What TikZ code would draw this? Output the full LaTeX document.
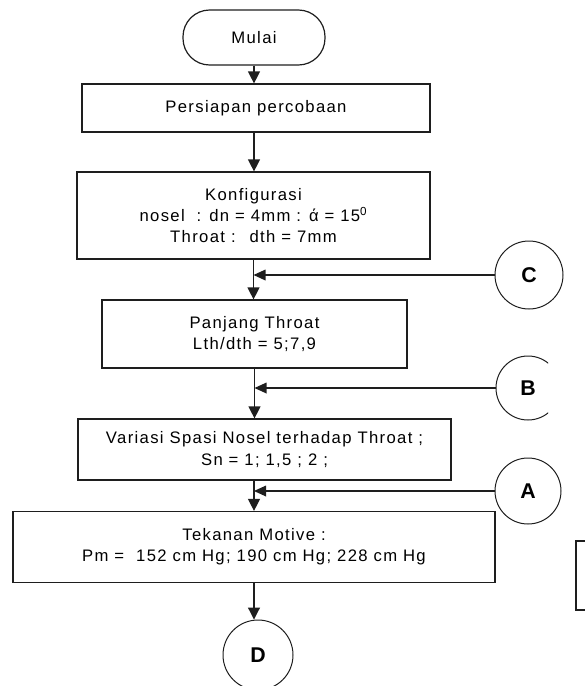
\documentclass[tikz,border=0pt]{standalone}
\usepackage{fontspec}
\setmainfont{Liberation Sans}[LetterSpace=8]
\usetikzlibrary{arrows.meta}
\definecolor{flowline}{RGB}{30,30,30}
\tikzset{
  stepbox/.style={draw=flowline,line width=0.9pt,inner sep=0pt,align=center,
    font=\fontsize{12.5}{16}\selectfont},
  connector/.style={draw=flowline,circle,line width=0.75pt,inner sep=0pt,
    font=\fontsize{16}{16}\selectfont\bfseries},
  flow/.style={draw=flowline,line width=0.9pt,-{Triangle[length=9pt,width=9pt]}},
  sideflow/.style={draw=flowline,line width=0.9pt,-{Triangle[length=9pt,width=8pt]}}
}

\begin{document}
\begin{tikzpicture}[x=0.75pt,y=-0.75pt]
  \useasboundingbox (0,0) rectangle (585,686);
  \clip (0,0) rectangle (585,686);
  % flow steps
  \node[stepbox,rounded corners=20pt,minimum width=106.5pt,minimum height=41.25pt] (mulai) at (254,37.5) {Mulai};
  \node[stepbox,minimum width=261pt,minimum height=36pt] (persiapan) at (256,108) {Persiapan percobaan};
  \node[stepbox,minimum width=264.75pt,minimum height=65.25pt] (konfig) at (253.5,215.5)
    {Konfigurasi\\nosel \ : dn = 4mm : ά = 15\textsuperscript{0}\\Throat : \ dth = 7mm};
  \node[stepbox,minimum width=228.75pt,minimum height=51pt] (panjang) at (254.5,334)
    {Panjang Throat\\Lth/dth = 5;7,9};
  \node[stepbox,minimum width=279.75pt,minimum height=45.75pt] (variasi) at (264.5,449.5)
    {Variasi Spasi Nosel terhadap Throat ;\\Sn = 1; 1,5 ; 2 ;};
  \node[stepbox,minimum width=361.5pt,minimum height=53.25pt] (tekanan) at (254,547)
    {Tekanan Motive :\\Pm = \ 152 cm Hg; 190 cm Hg; 228 cm Hg};
  % off-page connectors
  \node[connector,minimum size=51pt] (C) at (529,275) {C};
  \node[connector,minimum size=49.5pt] (A) at (528,491) {A};
  \begin{scope}
    \clip (0,350) rectangle (548,430);
    \node[connector,minimum size=48pt] (B) at (528,388) {B};
  \end{scope}
  \node[connector,minimum size=52.5pt] (D) at (258,655) {D};
  % partial box at the right edge
  \draw[flowline,line width=0.9pt] (600,541) -- (576,541) -- (576,610) -- (600,610);
  % main line
  \draw[flow] (mulai.south) -- (mulai.south |- persiapan.north);
  \draw[flow] (persiapan.south -| mulai.south) -- (konfig.north -| mulai.south);
  \draw[flow] (konfig.south) -- (konfig.south |- panjang.north);
  \draw[flow] (panjang.south) -- (panjang.south |- variasi.north);
  \draw[flow] (tekanan.north |- variasi.south) -- (tekanan.north);
  \draw[flow] (tekanan.south) -- (tekanan.south |- D.north);
  % returns from connectors
  \draw[sideflow] (C) -- (C -| konfig.south);
  \draw[sideflow] (B) -- (B -| panjang.south);
  \draw[sideflow] (A) -- (A -| tekanan.north);
\end{tikzpicture}
\end{document}
